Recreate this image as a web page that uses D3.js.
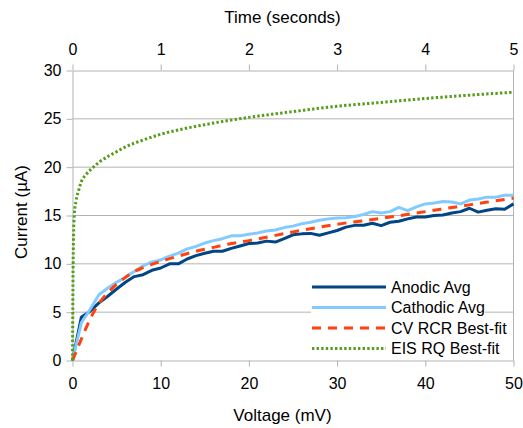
<!DOCTYPE html>
<html>
<head>
<meta charset="utf-8">
<script src="https://cdn.jsdelivr.net/npm/d3@7"></script>
<style>
  html, body { margin: 0; padding: 0; background: #fff; }
  svg { display: block; }
  text { font-family: "Liberation Sans", Arial, sans-serif; fill: #000; }
</style>
</head>
<body>
<svg id="chart" width="523" height="428"></svg>
<script>
// Measured sweeps: current (µA) at each voltage step (mV)
const voltage = d3.range(0, 51);
const anodicAvg = [0, 4.47, 5.1, 5.96, 6.65, 7.4, 8.1, 8.68, 8.88, 9.33, 9.57,
  10.0, 10.0, 10.5, 10.85, 11.1, 11.3, 11.3, 11.6, 11.85, 12.1,
  12.15, 12.35, 12.25, 12.6, 13.0, 13.1, 13.15, 12.95, 13.2, 13.45,
  13.8, 13.98, 14.0, 14.2, 13.95, 14.3, 14.4, 14.65, 14.85, 14.85,
  15.0, 15.05, 15.25, 15.4, 15.75, 15.35, 15.55, 15.7, 15.65, 16.2];
const cathodicAvg = [0, 3.9, 5.3, 6.8, 7.5, 8.1, 8.6, 9.2, 9.8, 10.2, 10.4,
  10.8, 11.1, 11.55, 11.8, 12.15, 12.4, 12.6, 12.9, 12.9, 13.05,
  13.2, 13.4, 13.5, 13.75, 13.9, 14.15, 14.3, 14.5, 14.65, 14.75,
  14.77, 14.9, 15.1, 15.4, 15.25, 15.4, 15.85, 15.5, 15.9, 16.2,
  16.3, 16.45, 16.4, 16.2, 16.6, 16.7, 16.9, 16.9, 17.1, 17.1];

// Model fits
const cvFitVoltage = [0, 1, 2, 3, 4, 5, 6, 7, 8, 10, 12, 14, 16, 18, 20, 25, 30, 35, 40, 45, 50];
const cvFitCurrent = [0, 2.2, 4.3, 5.9, 7.0, 7.9, 8.6, 9.2, 9.6, 10.25, 10.8, 11.3, 11.7, 12.1, 12.4, 13.3, 14.1, 14.7, 15.4, 16.1, 16.8];
const eisFitVoltage = [0, 0.03, 0.07, 0.2, 0.4, 0.7, 1, 1.5, 2, 2.5, 3, 4, 5, 6, 8, 10, 12.5, 15, 17.5, 20, 25, 30, 35, 40, 45, 50];
const eisFitCurrent = [0, 5, 10, 15, 16.5, 17.6, 18.5, 19.2, 19.7, 20.1, 20.5, 21.1, 21.6, 22.1, 22.8, 23.4, 23.95, 24.4, 24.8, 25.15, 25.75, 26.3, 26.7, 27.1, 27.45, 27.75];

// Axis ticks
const voltageTicks = [0, 10, 20, 30, 40, 50];
const timeTicks = [0, 1, 2, 3, 4, 5];
const currentTicks = [0, 5, 10, 15, 20, 25, 30];

const seriesNames = ["Anodic Avg", "Cathodic Avg", "CV RCR Best-fit", "EIS RQ Best-fit"];
const seriesColors = ["#004586", "#83caff", "#ff420e", "#579d1c"];

const svg = d3.select("#chart");
const plotLeft = 72.5, plotRight = 513.5, plotTop = 70.5, plotBottom = 360.5;
const gridColor = "#b3b3b3";

const x = d3.scaleLinear().domain([0, 50]).range([plotLeft, plotRight]);
const xTime = d3.scaleLinear().domain([0, 5]).range([plotLeft, plotRight]);
const y = d3.scaleLinear().domain([0, 30]).range([plotBottom, plotTop]);

// Horizontal gridlines
svg.append("g")
  .selectAll("line")
  .data(currentTicks.filter(t => t > 0 && t < 30))
  .join("line")
  .attr("x1", plotLeft).attr("x2", plotRight)
  .attr("y1", d => y(d)).attr("y2", d => y(d))
  .attr("stroke", gridColor).attr("stroke-width", 1);

// Right frame edge
svg.append("line")
  .attr("x1", plotRight).attr("x2", plotRight).attr("y1", plotTop).attr("y2", plotBottom)
  .attr("stroke", gridColor);

function styleAxis(g) {
  g.selectAll("path.domain").attr("stroke", gridColor);
  g.selectAll(".tick line").attr("stroke", gridColor);
  g.selectAll(".tick text")
    .attr("font-size", 16)
    .attr("fill", "#000")
    .attr("font-family", '"Liberation Sans", Arial, sans-serif');
}

const intFmt = d3.format("d");

svg.append("g")
  .attr("transform", `translate(0,${plotBottom})`)
  .call(d3.axisBottom(x).tickValues(voltageTicks).tickFormat(intFmt).tickSize(6).tickPadding(11).tickSizeOuter(0))
  .call(styleAxis);

svg.append("g")
  .attr("transform", `translate(0,${plotTop})`)
  .call(d3.axisTop(xTime).tickValues(timeTicks).tickFormat(intFmt).tickSize(6).tickPadding(10).tickSizeOuter(0))
  .call(styleAxis);

svg.append("g")
  .attr("transform", `translate(${plotLeft},0)`)
  .call(d3.axisLeft(y).tickValues(currentTicks).tickFormat(intFmt).tickSize(6).tickPadding(5).tickSizeOuter(0))
  .call(styleAxis);

// Axis titles
svg.append("text").attr("x", 282.5).attr("y", 23).attr("text-anchor", "middle")
  .attr("font-size", 17).text("Time (seconds)");
svg.append("text").attr("x", 282.5).attr("y", 421).attr("text-anchor", "middle")
  .attr("font-size", 17).text("Voltage (mV)");
svg.append("text")
  .attr("transform", "translate(27,212) rotate(-90)")
  .attr("text-anchor", "middle").attr("font-size", 17).text("Current (µA)");

// Series
const line = d3.line().x(d => x(d[0])).y(d => y(d[1]));
const smooth = d3.line().x(d => x(d[0])).y(d => y(d[1])).curve(d3.curveMonotoneX);

const plot = svg.append("g");
plot.append("path")
  .datum(voltage.map((v, i) => [v, anodicAvg[i]]))
  .attr("d", line).attr("fill", "none")
  .attr("stroke", seriesColors[0]).attr("stroke-width", 3).attr("stroke-linejoin", "round");
plot.append("path")
  .datum(voltage.map((v, i) => [v, cathodicAvg[i]]))
  .attr("d", line).attr("fill", "none")
  .attr("stroke", seriesColors[1]).attr("stroke-width", 3).attr("stroke-linejoin", "round");
plot.append("path")
  .datum(cvFitVoltage.map((v, i) => [v, cvFitCurrent[i]]))
  .attr("d", smooth).attr("fill", "none")
  .attr("stroke", seriesColors[2]).attr("stroke-width", 3).attr("stroke-dasharray", "9,7");
plot.append("path")
  .datum(eisFitVoltage.map((v, i) => [v, eisFitCurrent[i]]))
  .attr("d", smooth).attr("fill", "none")
  .attr("stroke", seriesColors[3]).attr("stroke-width", 3).attr("stroke-dasharray", "2.4,2.2");

// Legend
const legend = svg.append("g");
legend.append("rect")
  .attr("x", 311).attr("y", 276).attr("width", 174).attr("height", 83)
  .attr("fill", "#fff");
const dashes = [null, null, "9,7", "2.4,2.2"];
const rowY = [287, 307.5, 328, 348.5];
seriesNames.forEach((name, i) => {
  legend.append("line")
    .attr("x1", 312).attr("x2", 386).attr("y1", rowY[i]).attr("y2", rowY[i])
    .attr("stroke", seriesColors[i]).attr("stroke-width", 3)
    .attr("stroke-dasharray", dashes[i]);
  legend.append("text")
    .attr("x", 391).attr("y", rowY[i]).attr("dy", "0.36em")
    .attr("font-size", 16).text(name);
});
</script>
</body>
</html>
